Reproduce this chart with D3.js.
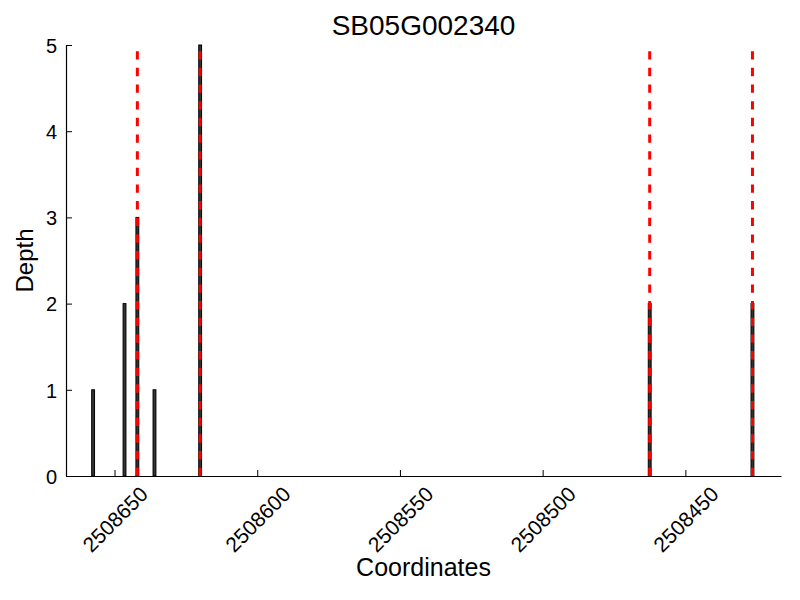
<!DOCTYPE html>
<html>
<head>
<meta charset="utf-8">
<script src="https://cdn.jsdelivr.net/npm/d3@7"></script>
<style>
  html, body { margin: 0; padding: 0; background: #fff; }
  svg text { font-family: "Liberation Sans", Arial, Helvetica, sans-serif; fill: #000; }
</style>
</head>
<body>
<svg id="chart" width="800" height="600"></svg>
<script>
// ---- data ----
const title = "SB05G002340";
const positions = [2508657.5, 2508646.5, 2508642, 2508636, 2508620, 2508462.5, 2508426.5];
const depths = [1, 2, 3, 1, 5, 2, 2];
const boundaries = [2508642, 2508620, 2508462.5, 2508426.5];
const xTicks = [2508650, 2508600, 2508550, 2508500, 2508450];
const yTicks = [0, 1, 2, 3, 4, 5];
const xDomain = [2508667, 2508416.5];
const yDomain = [0, 5];

// ---- layout ----
const margin = { left: 66, right: 19, top: 45, bottom: 124 };
const W = 800, H = 600;
const svg = d3.select("#chart");
const x = d3.scaleLinear().domain(xDomain).range([margin.left, W - margin.right]);
const y = d3.scaleLinear().domain(yDomain).range([H - margin.bottom, margin.top]);

// bars
const bars = positions.map((p, i) => ({ p, d: depths[i] }));
svg.append("g").selectAll("rect").data(bars).join("rect")
  .attr("x", d => x(d.p + 0.5))
  .attr("y", d => y(d.d))
  .attr("width", d => Math.abs(x(d.p - 0.5) - x(d.p + 0.5)))
  .attr("height", d => y(0) - y(d.d))
  .attr("fill", "#333333")
  .attr("stroke", "#000")
  .attr("stroke-width", 1);

// red dashed boundaries (drawn bottom-up)
svg.append("g").selectAll("line").data(boundaries).join("line")
  .attr("x1", d => x(d)).attr("x2", d => x(d))
  .attr("y1", y(0)).attr("y2", y(5))
  .attr("stroke", "#ff0000")
  .attr("stroke-width", 3)
  .attr("stroke-dasharray", "8.33,8.33");

// axes
const xAxis = d3.axisBottom(x).tickValues(xTicks).tickSizeInner(-6).tickSizeOuter(0).tickFormat(d3.format("d"));
const gx = svg.append("g").attr("transform", `translate(0,${y(0)})`).call(xAxis);
gx.select(".domain").attr("stroke", "#000").attr("stroke-width", 1.2);
gx.selectAll(".tick line").attr("stroke", "#000");
gx.selectAll(".tick text").each(function() {
  const t = d3.select(this);
  t.attr("font-size", 21).attr("text-anchor", "middle").attr("dominant-baseline", "central").attr("y", null).attr("dy", null);
  const len = this.getComputedTextLength();
  const d = (len + 15) / (2 * Math.SQRT2);
  t.attr("transform", `translate(0,${9 + d}) rotate(-45)`);
});

const yAxis = d3.axisLeft(y).tickValues(yTicks).tickSizeInner(-6).tickSizeOuter(0).tickPadding(9).tickFormat(d3.format("d"));
const gy = svg.append("g").attr("transform", `translate(${margin.left},0)`).call(yAxis);
gy.select(".domain").attr("stroke", "#000").attr("stroke-width", 1.2);
gy.selectAll(".tick line").attr("stroke", "#000");
gy.selectAll(".tick text").attr("font-size", 20).attr("dy", "0.36em");

// labels
const cx = (margin.left + W - margin.right) / 2;
svg.append("text").attr("x", cx).attr("y", 35).attr("text-anchor", "middle").attr("font-size", 28).text(title);
svg.append("text").attr("x", cx).attr("y", 576).attr("text-anchor", "middle").attr("font-size", 25).text("Coordinates");
svg.append("text").attr("transform", `translate(33,${(y(0) + y(5)) / 2}) rotate(-90)`)
  .attr("text-anchor", "middle").attr("font-size", 24).text("Depth");
</script>
</body>
</html>
